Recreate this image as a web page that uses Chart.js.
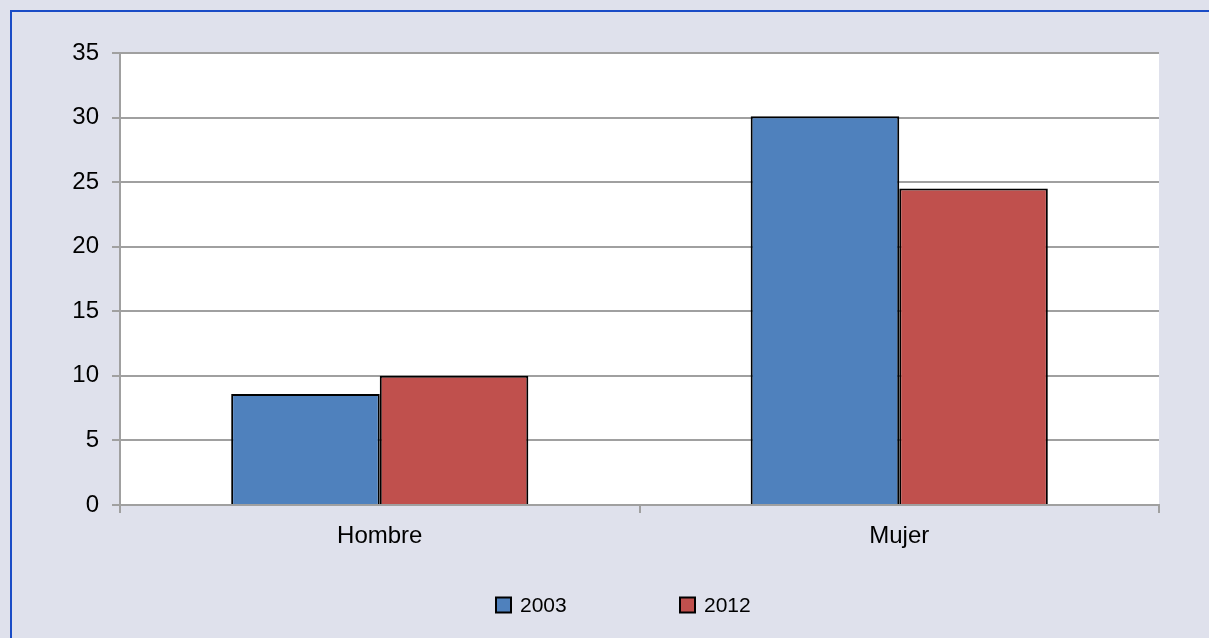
<html>
<head>
  <script src="https://cdn.jsdelivr.net/npm/chart.js"></script>
  <style>
    body { margin: 0; background: #dfe1ec; }
    #wrap { position: relative; width: 1209px; height: 638px; }
  </style>
  <script>
    const categories = ['Hombre', 'Mujer'];
    const series2003 = [8.6, 30.1];
    const series2012 = [10.0, 24.5];
    const seriesLabels = ['2003', '2012'];
    const yTicks = [0, 5, 10, 15, 20, 25, 30, 35];

    const textFont = "'Liberation Sans', Arial, Helvetica, sans-serif";
    const gridColor = '#a0a0a0';

    // frame, white plot area and custom legend
    const decor = {
      id: 'decor',
      beforeDraw(chart) {
        const ctx = chart.ctx;
        const a = chart.chartArea;
        ctx.save();
        ctx.fillStyle = '#dfe1ec';
        ctx.fillRect(0, 0, chart.width, chart.height);
        ctx.strokeStyle = '#1a4cc6';
        ctx.lineWidth = 2;
        ctx.beginPath();
        ctx.moveTo(chart.width, 11);
        ctx.lineTo(11, 11);
        ctx.lineTo(11, chart.height);
        ctx.stroke();
        ctx.fillStyle = '#ffffff';
        ctx.fillRect(a.left, a.top, a.right - a.left, a.bottom - a.top);
        ctx.restore();
      },
      afterDraw(chart) {
        const ctx = chart.ctx;
        const starts = [496, 680];
        const y = 605;
        ctx.save();
        ctx.font = '21px ' + textFont;
        ctx.textBaseline = 'middle';
        chart.data.datasets.forEach((ds, i) => {
          const x = starts[i];
          ctx.fillStyle = ds.backgroundColor;
          ctx.fillRect(x, y - 7.5, 15, 15);
          ctx.strokeStyle = '#000';
          ctx.lineWidth = 2;
          ctx.strokeRect(x, y - 7.5, 15, 15);
          ctx.fillStyle = '#000';
          ctx.fillText(ds.label, x + 24, y + 1);
        });
        ctx.restore();
      }
    };

    window.addEventListener('load', () => {
      new Chart(document.getElementById('myChart'), {
        type: 'bar',
        data: {
          labels: categories,
          datasets: [
            { label: seriesLabels[0], data: series2003, backgroundColor: '#4f81bd', borderColor: '#000', borderWidth: 2 },
            { label: seriesLabels[1], data: series2012, backgroundColor: '#c0504d', borderColor: '#000', borderWidth: 2 }
          ]
        },
        options: {
          responsive: false,
          animation: false,
          layout: { padding: { top: 53, right: 50, bottom: 0, left: 0 } },
          datasets: { bar: { barPercentage: 1, categoryPercentage: 0.572 } },
          plugins: { legend: { display: false }, tooltip: { enabled: false } },
          scales: {
            x: {
              afterFit(s) { s.height = 133; },
              grid: { offset: true, drawOnChartArea: false, drawTicks: true, tickLength: 8, color: gridColor, lineWidth: 2 },
              border: { color: gridColor, width: 2 },
              ticks: { color: '#000', padding: 9, font: { family: textFont, size: 24 } }
            },
            y: {
              min: 0, max: 35,
              afterFit(s) { s.width = 120; },
              afterBuildTicks(s) { s.ticks = yTicks.map(v => ({ value: v })); },
              grid: { color: gridColor, lineWidth: 2, tickLength: 8 },
              border: { color: gridColor, width: 2 },
              ticks: { color: '#000', padding: 13, font: { family: textFont, size: 24 } }
            }
          }
        },
        plugins: [decor]
      });
    });
  </script>
</head>
<body>
  <div id="wrap">
    <canvas id="myChart" width="1209" height="638"></canvas>
  </div>
</body>
</html>
